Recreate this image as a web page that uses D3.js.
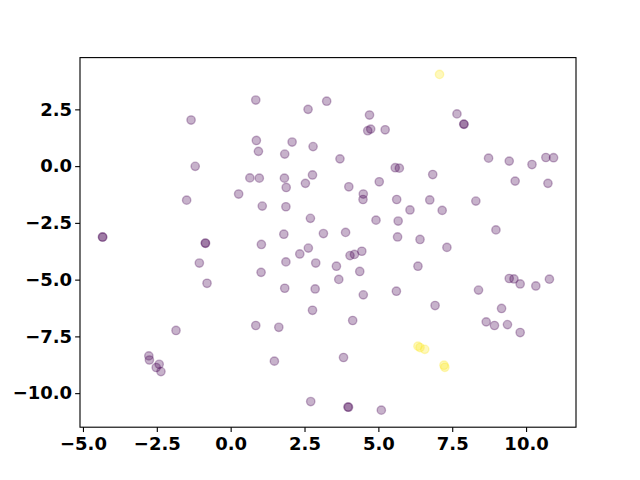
<!doctype html>
<html lang="en">
<head>
<meta charset="utf-8">
<script src="https://cdnjs.cloudflare.com/ajax/libs/d3/7.8.5/d3.min.js"></script>
<style>
  body { margin: 0; background: #fff; }
  .axis text { font-family: 'DejaVu Sans', sans-serif; font-weight: bold; font-size: 18px; fill: #000; }
  .axis line { stroke: #000; stroke-width: 1.11px; }
</style>
</head>
<body>
<script>
// point coordinates (x, y) and class label (0 = purple, 1 = yellow)
const xs = [0.85, 2.62, -1.34, 0.87, 2.08, 0.94, 1.83, 2.79, -1.20, 0.65, 0.97, 1.82, 2.77, 1.88, 2.53,
  0.27, -1.49, 1.07, 1.87, 2.70, 1.80, -4.34, -4.33, -0.86, -0.85, 1.04, 2.63, 2.34, -1.06, 1.87,
  2.88, 1.03, -0.80, 1.83, 2.86, 2.77, -1.85, 0.85, 1.63, -2.77, -2.75, -2.52, -2.42, -2.36, 1.48,
  2.71, 3.25, 4.70, 7.66, 7.89, 7.90, 4.64, 4.74, 5.23, 3.70, 8.73, 9.43, 10.20, 10.67, 10.93,
  5.57, 5.71, 6.84, 4.00, 5.03, 9.63, 10.74, 4.49, 4.48, 5.62, 6.74, 6.07, 7.16, 8.30, 4.92,
  5.67, 3.14, 3.89, 5.65, 6.41, 8.98, 7.32, 4.04, 4.19, 4.44, 3.58, 4.37, 6.34, 3.66, 4.49,
  5.61, 8.39, 9.43, 9.59, 9.80, 10.33, 10.79, 6.92, 9.17, 4.13, 8.65, 8.93, 9.37, 9.80, 3.82,
  3.97, 3.99, 5.10,
  7.07, 6.34, 6.41, 6.57, 7.22, 7.25];
const ys = [2.91, 2.50, 2.03, 1.13, 1.06, 0.65, 0.53, 0.86, -0.01, -0.52, -0.53, -0.53, -0.39, -0.94, -0.76,
  -1.23, -1.50, -1.76, -1.79, -2.30, -3.00, -3.12, -3.13, -3.39, -3.40, -3.45, -3.61, -3.87, -4.27, -4.22,
  -4.27, -4.68, -5.16, -5.38, -5.41, -6.35, -7.24, -7.02, -7.10, -8.36, -8.54, -8.87, -8.73, -9.05, -8.59,
  -10.37, 2.86, 2.25, 2.30, 1.85, 1.84, 1.56, 1.63, 1.60, 0.32, 0.35, 0.22, 0.07, 0.38, 0.37,
  -0.07, -0.09, -0.37, -0.91, -0.69, -0.66, -0.76, -1.23, -1.47, -1.47, -1.49, -1.93, -1.95, -1.54, -2.38,
  -2.42, -2.97, -2.92, -3.12, -3.23, -2.81, -3.58, -3.94, -3.89, -3.75, -4.41, -4.64, -4.41, -4.99, -5.67,
  -5.51, -5.46, -4.95, -4.97, -5.19, -5.28, -4.98, -6.14, -6.27, -6.80, -6.86, -7.02, -6.98, -7.33, -8.43,
  -10.61, -10.62, -10.75,
  4.04, -7.93, -7.99, -8.07, -8.77, -8.86];
const labels = xs.map((d, i) => i >= xs.length - 6 ? 1 : 0);

const xTicks = [-5, -2.5, 0, 2.5, 5, 7.5, 10];
const yTicks = [2.5, 0, -2.5, -5, -7.5, -10];

const w = 640, h = 480;
const margin = {left: 80, right: 64, top: 57.6, bottom: 52.8};

const svg = d3.select("body").append("svg")
  .attr("width", w)
  .attr("height", h);

const xScale = d3.scaleLinear()
  .domain([-5.10, 11.69])
  .range([margin.left, w - margin.right]);

const yScale = d3.scaleLinear()
  .domain([-11.50, 4.78])
  .range([h - margin.bottom, margin.top]);

const color = d3.scaleSequential(d3.interpolateViridis).domain([0, 1]);

const points = xs.map((x, i) => ({x: x, y: ys[i], c: labels[i]}));

// points
svg.append("g")
  .selectAll("circle")
  .data(points)
  .enter()
  .append("circle")
  .attr("cx", d => xScale(d.x))
  .attr("cy", d => yScale(d.y))
  .attr("r", 4.17)
  .attr("fill", d => color(d.c))
  .attr("fill-opacity", 0.3)
  .attr("stroke", d => color(d.c))
  .attr("stroke-opacity", 0.3)
  .attr("stroke-width", 1.39);

// axes
const fmt = d3.format(".1f");
svg.append("g")
  .attr("class", "axis")
  .attr("transform", "translate(0," + (h - margin.bottom) + ")")
  .call(d3.axisBottom(xScale).tickValues(xTicks).tickFormat(fmt).tickSize(4.86).tickPadding(4.86))
  .call(g => g.select(".domain").remove());

svg.append("g")
  .attr("class", "axis")
  .attr("transform", "translate(" + margin.left + ",0)")
  .call(d3.axisLeft(yScale).tickValues(yTicks).tickFormat(fmt).tickSize(4.86).tickPadding(3))
  .call(g => g.select(".domain").remove());

// frame
svg.append("rect")
  .attr("x", margin.left)
  .attr("y", margin.top)
  .attr("width", w - margin.left - margin.right)
  .attr("height", h - margin.top - margin.bottom)
  .attr("fill", "none")
  .attr("stroke", "#000")
  .attr("stroke-width", 1.11);
</script>
</body>
</html>
